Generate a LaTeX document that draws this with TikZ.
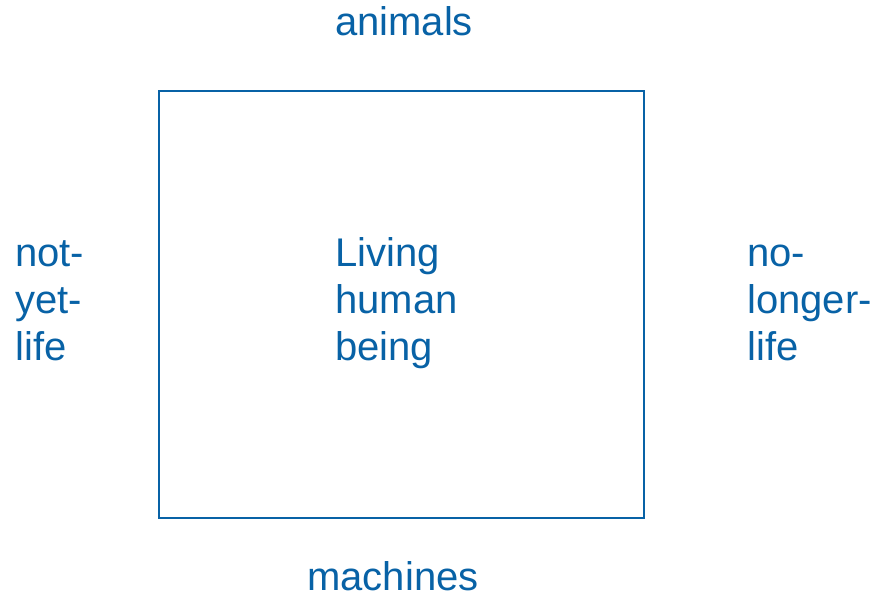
\documentclass[tikz,border=0pt]{standalone}
\usepackage{fontspec}
\setmainfont{Liberation Sans}
\usepackage{xcolor}
\definecolor{lifeblue}{RGB}{8,98,166}

\begin{document}
\begin{tikzpicture}[x=0.75pt,y=-0.75pt,
	label/.style={text=lifeblue,inner sep=0pt,font=\fontsize{30}{35.25}\selectfont,align=left}]
		\useasboundingbox (0,0) rectangle (876,595);
		\draw[lifeblue,line width=1.1pt] (159,91) rectangle (644,518);
		\node[label,anchor=base] (animals) at (404,36) {animals};
		\node[label,anchor=base] (machines) at (393,591) {machines};
		\node[label,anchor=base west] (notyet) at (15,361) {not-\\yet-\\life};
		\node[label,anchor=base west] (living) at (335,361) {Living\\human\\being};
		\node[label,anchor=base west] (nolonger) at (747,361) {no-\\longer-\\life};
	\end{tikzpicture}
\end{document}
